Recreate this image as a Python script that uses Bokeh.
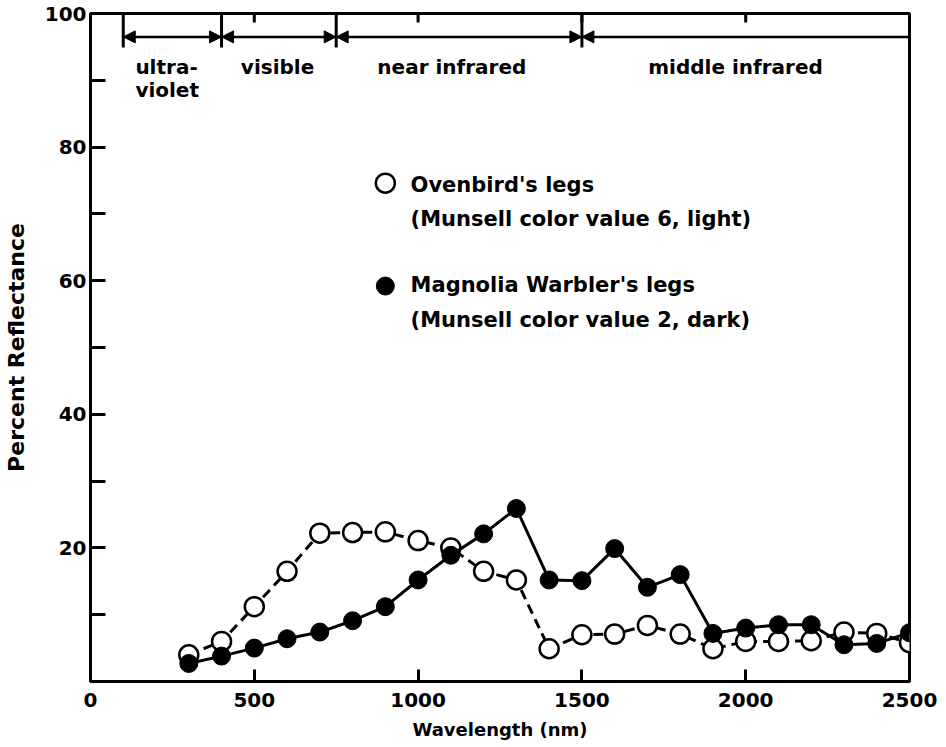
from bokeh.plotting import figure
from bokeh.models import Range1d, FixedTicker, Arrow, NormalHead
from bokeh.core.properties import value
from bokeh.embed import file_html
from bokeh.resources import INLINE

# ---- data ----
wavelength = [300, 400, 500, 600, 700, 800, 900, 1000, 1100, 1200, 1300, 1400,
              1500, 1600, 1700, 1800, 1900, 2000, 2100, 2200, 2300, 2400, 2500]
ovenbird = [4.0, 6.0, 11.2, 16.5, 22.2, 22.3, 22.4, 21.1, 20.0, 16.5, 15.2, 4.9,
            7.0, 7.1, 8.4, 7.1, 4.9, 6.0, 6.0, 6.1, 7.4, 7.2, 5.8]
magnolia = [2.7, 3.8, 5.0, 6.4, 7.4, 9.1, 11.2, 15.2, 18.9, 22.1, 25.9, 15.2,
            15.1, 19.9, 14.1, 16.0, 7.2, 8.0, 8.5, 8.5, 5.5, 5.7, 7.3]

x_ticks = [0, 500, 1000, 1500, 2000, 2500]
y_ticks = [20, 40, 60, 80, 100]
y_minor = [10, 30, 50, 70, 90]
top_ticks = [500, 1000, 1500, 2000]

region_bounds = [100, 400, 750, 1500, 2500]
region_names = ["ultra-", "violet", "visible", "near infrared", "middle infrared"]
legend_titles = ["Ovenbird's legs", "(Munsell color value 6, light)",
                 "Magnolia Warbler's legs", "(Munsell color value 2, dark)"]

FONT = "DejaVu Sans"

p = figure(width=946, height=747, x_range=Range1d(0, 2500), y_range=Range1d(0, 100),
           output_backend="svg", toolbar_location=None,
           min_border_left=90, min_border_right=37, min_border_top=13, min_border_bottom=66)
p.grid.visible = False
p.outline_line_color = "black"
p.outline_line_width = 3
p.background_fill_color = "white"
p.border_fill_color = "white"

# x axis
xa = p.xaxis[0]
xa.ticker = FixedTicker(ticks=x_ticks)
xa.major_tick_in = 12
xa.major_tick_out = 0
xa.minor_tick_in = 0
xa.minor_tick_out = 0
xa.axis_line_width = 3
xa.major_tick_line_width = 3
xa.major_label_standoff = 11
xa.major_label_text_font = FONT
xa.major_label_text_font_style = "bold"
xa.major_label_text_font_size = "20px"
xa.major_label_text_color = "black"
xa.axis_label = "Wavelength (nm)"
xa.axis_label_text_font = FONT
xa.axis_label_text_font_style = "bold"
xa.axis_label_text_font_size = "18px"
xa.axis_label_text_color = "black"
xa.axis_label_standoff = 9

# y axis
ya = p.yaxis[0]
ya.ticker = FixedTicker(ticks=y_ticks, minor_ticks=y_minor)
ya.major_tick_in = 15
ya.major_tick_out = 0
ya.minor_tick_in = 15
ya.minor_tick_out = 0
ya.axis_line_width = 3
ya.major_tick_line_width = 3
ya.minor_tick_line_width = 3
ya.major_label_standoff = 4
ya.major_label_text_font = FONT
ya.major_label_text_font_style = "bold"
ya.major_label_text_font_size = "20px"
ya.major_label_text_color = "black"
ya.axis_label = "Percent Reflectance"
ya.axis_label_text_font = FONT
ya.axis_label_text_font_style = "bold"
ya.axis_label_text_font_size = "22px"
ya.axis_label_text_color = "black"
ya.axis_label_standoff = 13

# small inward ticks along the top edge
TOP_TICK = 1.35
p.segment(x0=top_ticks, y0=[100] * len(top_ticks), x1=top_ticks,
          y1=[100 - TOP_TICK] * len(top_ticks), line_color="black", line_width=3)

# region markers (vertical bars and arrows)
ARROW_Y = 96.5
bars = region_bounds[:-1]
p.segment(x0=bars, y0=[100] * len(bars), x1=bars, y1=[94.9] * len(bars),
          line_color="black", line_width=3)
for i in range(len(region_bounds) - 1):
    start_head = NormalHead(size=12, fill_color="black", line_color="black", line_width=1)
    end_head = None
    if i < len(region_bounds) - 2:
        end_head = NormalHead(size=12, fill_color="black", line_color="black", line_width=1)
    p.add_layout(Arrow(x_start=region_bounds[i], y_start=ARROW_Y,
                       x_end=region_bounds[i + 1], y_end=ARROW_Y,
                       start=start_head, end=end_head,
                       line_color="black", line_width=2.5))

# region labels
p.text(x=[137, 137], y=[92.0, 88.5], text=region_names[:2], text_align="left",
       text_baseline="alphabetic", text_font=value(FONT), text_font_style="bold",
       text_font_size="20px", text_color="black")
p.text(x=[571, 1103, 1969], y=[92.0, 92.0, 92.0], text=region_names[2:], text_align="center",
       text_baseline="alphabetic", text_font=value(FONT), text_font_style="bold",
       text_font_size="20px", text_color="black")

# series
p.line(wavelength, ovenbird, line_color="black", line_width=3, line_dash="10 6")
p.scatter(wavelength, ovenbird, size=19, marker="circle", fill_color="white",
          line_color="black", line_width=2.5)
p.line(wavelength, magnolia, line_color="black", line_width=3)
p.scatter(wavelength, magnolia, size=18, marker="circle", fill_color="black",
          line_color="black", line_width=1)

# legend
p.scatter([900], [74.6], size=19, marker="circle", fill_color="white",
          line_color="black", line_width=2.5)
p.scatter([900], [59.2], size=18, marker="circle", fill_color="black",
          line_color="black", line_width=1)
p.text(x=[977] * 4, y=[74.4, 69.3, 59.3, 54.1], text=legend_titles, text_align="left",
       text_baseline="alphabetic", text_font=value(FONT), text_font_style="bold",
       text_font_size="21px", text_color="black")

open("out.html", "w").write(file_html(p, INLINE))
